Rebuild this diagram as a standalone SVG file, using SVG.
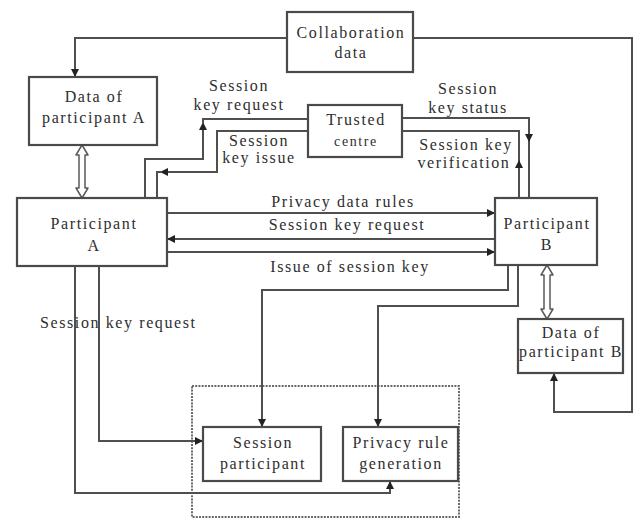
<svg xmlns="http://www.w3.org/2000/svg" width="633" height="519" viewBox="0 0 633 519">
  <style>
    .box { fill: #ffffff; stroke: #4a4a4a; stroke-width: 2.2; }
    .lbl { font-family: "Liberation Serif", "Times New Roman", serif; font-size: 16px; fill: #2e2e2e; letter-spacing: 1.6px; text-anchor: middle; }
    .lbl-l { font-family: "Liberation Serif", "Times New Roman", serif; font-size: 16px; fill: #2e2e2e; letter-spacing: 1.6px; }
    .wire { fill: none; stroke: #4f4f4f; stroke-width: 2; }
    .wire-a { fill: none; stroke: #4f4f4f; stroke-width: 2; marker-end: url(#head); }
    .dbl { fill: #ffffff; stroke: #5a5a5a; stroke-width: 1.5; stroke-linejoin: round; }
    .group { fill: none; stroke: #6a6a6a; stroke-width: 2; stroke-dasharray: 2 1.2; }
  </style>
  <defs>
    <marker id="head" viewBox="0 0 10 10" refX="10" refY="5" markerWidth="8" markerHeight="8" markerUnits="userSpaceOnUse" orient="auto">
      <path d="M0,0 L10,5 L0,10 z" fill="#222"/>
    </marker>
  </defs>

  <rect width="633" height="519" fill="#ffffff"/>

  <!-- grouping frame around the generation stage -->
  <rect class="group" x="192" y="386" width="267" height="131"/>

  <!-- connectors -->
  <g id="connectors">
    <!-- collaboration data feeds -->
    <path class="wire-a" d="M287,38 H75 V77"/>
    <path class="wire" d="M413,38 H632 V412 H554 V380"/>
    <path class="wire-a" d="M554,390 V373"/>

    <!-- session key request: A to trusted centre -->
    <path class="wire-a" d="M145,198 V159 H203 V122"/>
    <path class="wire" d="M203,124 V119 H308"/>

    <!-- session key issue: trusted centre to A -->
    <path class="wire-a" d="M308,131 H217 V172 H160"/>
    <path class="wire" d="M162,172 H157 V198"/>

    <!-- session key status: trusted centre to B -->
    <path class="wire" d="M402,118 H529 V198"/>
    <path class="wire-a" d="M529,128 V142"/>

    <!-- session key verification: B to trusted centre -->
    <path class="wire" d="M519,198 V131 H402"/>
    <path class="wire-a" d="M519,175 V160"/>

    <!-- exchanges between participants -->
    <path class="wire-a" d="M167,213 H495"/>
    <path class="wire-a" d="M495,239 H167"/>
    <path class="wire-a" d="M167,252 H495"/>

    <!-- B to the generation stage -->
    <path class="wire-a" d="M508,265 V290 H262 V427"/>
    <path class="wire-a" d="M518,265 V306 H378 V427"/>

    <!-- A to the generation stage -->
    <path class="wire-a" d="M99,266 V441 H203"/>
    <path class="wire-a" d="M75,266 V493 H390 V481"/>

    <!-- two-way data links -->
    <path class="dbl" d="M82,145 L88,155 L85,155 L85,188 L88,188 L82,198 L76,188 L79,188 L79,155 L76,155 Z"/>
    <path class="dbl" d="M547,265 L553,275 L550,275 L550,309 L553,309 L547,319 L541,309 L544,309 L544,275 L541,275 Z"/>
  </g>

  <!-- nodes -->
  <g id="collaboration-data">
    <rect class="box" x="287" y="12" width="126" height="60"/>
    <text class="lbl" x="351" y="38">Collaboration</text>
    <text class="lbl" x="351" y="58">data</text>
  </g>

  <g id="data-a">
    <rect class="box" x="29" y="77" width="128" height="68"/>
    <text class="lbl" x="94" y="102">Data of</text>
    <text class="lbl" x="94" y="123">participant A</text>
  </g>

  <g id="trusted-centre">
    <rect class="box" x="308" y="105" width="94" height="52"/>
    <text class="lbl" x="356" y="125">Trusted</text>
    <text class="lbl" x="356" y="146" style="font-size:14px">centre</text>
  </g>

  <g id="participant-a">
    <rect class="box" x="17" y="198" width="150" height="68"/>
    <text class="lbl" x="94" y="229">Participant</text>
    <text class="lbl" x="94" y="251">A</text>
  </g>

  <g id="participant-b">
    <rect class="box" x="495" y="198" width="102" height="67"/>
    <text class="lbl" x="547" y="229">Participant</text>
    <text class="lbl" x="547" y="250">B</text>
  </g>

  <g id="data-b">
    <rect class="box" x="518" y="319" width="105" height="54"/>
    <text class="lbl" x="571" y="338">Data of</text>
    <text class="lbl" x="571" y="357">participant B</text>
  </g>

  <g id="session-participant">
    <rect class="box" x="203" y="427" width="118" height="54"/>
    <text class="lbl" x="263" y="448">Session</text>
    <text class="lbl" x="263" y="469">participant</text>
  </g>

  <g id="privacy-rule-generation">
    <rect class="box" x="343" y="427" width="115" height="54"/>
    <text class="lbl" x="401" y="448">Privacy rule</text>
    <text class="lbl" x="401" y="469">generation</text>
  </g>

  <!-- connector labels -->
  <g id="labels">
    <text class="lbl" x="239" y="91">Session</text>
    <text class="lbl" x="239" y="110">key request</text>
    <text class="lbl" x="259" y="146">Session</text>
    <text class="lbl" x="259" y="163">key issue</text>
    <text class="lbl" x="468" y="94">Session</text>
    <text class="lbl" x="468" y="113">key status</text>
    <text class="lbl" x="466" y="150">Session key</text>
    <text class="lbl" x="464" y="168">verification</text>
    <text class="lbl" x="343" y="207">Privacy data rules</text>
    <text class="lbl" x="347" y="230">Session key request</text>
    <text class="lbl" x="350" y="272">Issue of session key</text>
    <text class="lbl-l" x="40" y="328">Session key request</text>
  </g>
</svg>
